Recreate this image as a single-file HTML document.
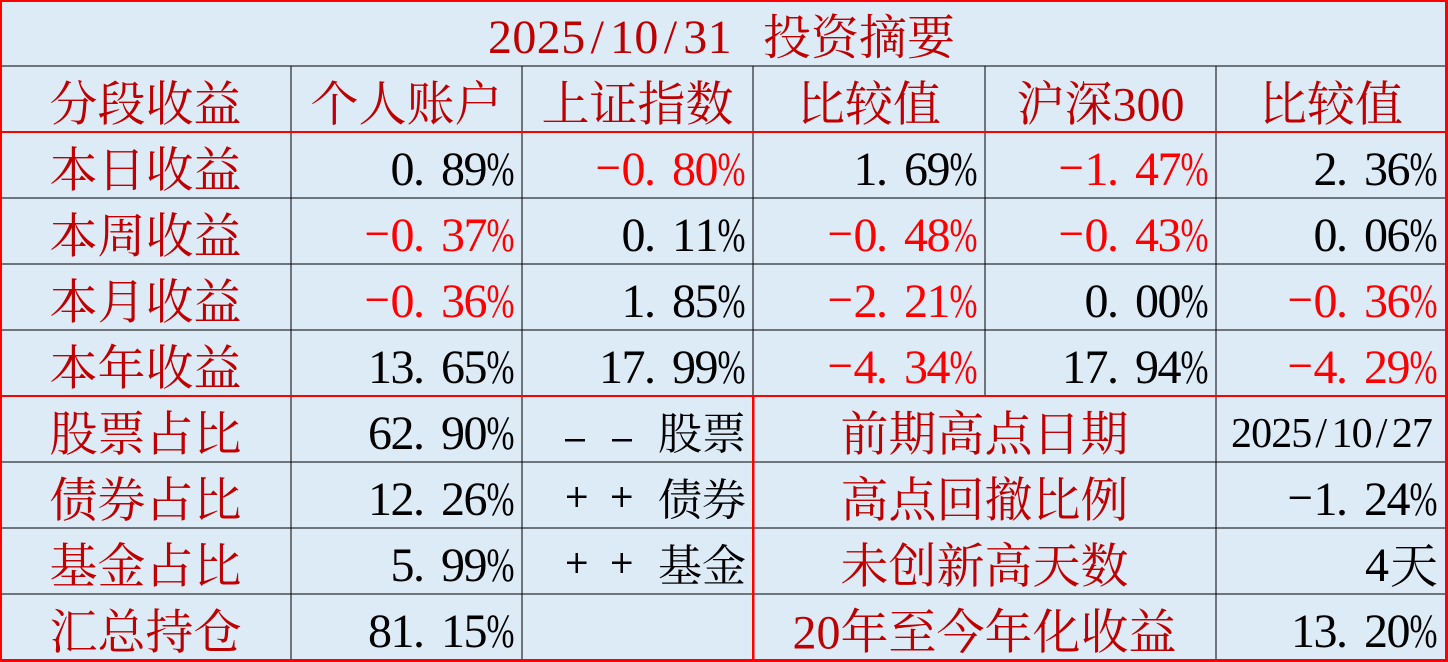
<!DOCTYPE html>
<html lang="zh-CN"><head><meta charset="utf-8"><style>
html,body{margin:0;padding:0;background:#DDEBF7;}
svg{display:block;font-family:'Liberation Serif','Noto Serif CJK SC','Noto Serif CJK JP',serif;}
svg text{font-family:'Liberation Serif','Noto Serif CJK SC','Noto Serif CJK JP',serif;}
.n{font-family:'Liberation Serif',serif;font-size:48px;}
.c{font-family:'Liberation Serif','Noto Serif CJK SC','Noto Serif CJK JP',serif;font-size:48px;}
.s{font-family:'Liberation Serif','Noto Serif CJK SC','Noto Serif CJK JP',serif;font-size:44px;}
.k{fill:#000;}
.r{fill:#FF0000;}
.d{fill:#C00000;}
</style></head><body>
<svg width="1448" height="662" viewBox="0 0 1448 662" xmlns="http://www.w3.org/2000/svg" font-family="'Liberation Serif','Noto Serif CJK SC',serif">
<rect x="0" y="0" width="1448" height="662" fill="#DDEBF7"/>
<g fill="#000">
<rect x="0" y="65.5" width="1448" height="1"/>
<rect x="0" y="197.5" width="1448" height="1"/>
<rect x="0" y="263.5" width="1448" height="1"/>
<rect x="0" y="329.5" width="1448" height="1"/>
<rect x="0" y="461.5" width="1448" height="1"/>
<rect x="0" y="527.5" width="1448" height="1"/>
<rect x="0" y="593.5" width="1448" height="1"/>
<rect x="290.5" y="66" width="1" height="594"/>
<rect x="521.5" y="66" width="1" height="594"/>
<rect x="752.5" y="66" width="1" height="330"/>
<rect x="984.5" y="66" width="1" height="330"/>
<rect x="1215.5" y="66" width="1" height="594"/>
</g>
<g fill="#FF0000">
<rect x="0" y="131" width="1448" height="2"/>
<rect x="0" y="395" width="1448" height="2"/>
<rect x="752" y="396" width="2.5" height="264"/>
<rect x="0" y="0" width="1448" height="2"/>
<rect x="0" y="0" width="2" height="662"/>
<rect x="1445" y="0" width="3" height="662"/>
<rect x="0" y="659" width="1448" height="3"/>
</g>

<text class="n d" font-family="'Liberation Serif',serif" x="488 512.4 536.8 561.2 590.6 610 634.4 663.8 683.2 707.6" y="53">2025/10/31</text>
<text class="c d" font-family="'Noto Serif CJK SC',serif" x="763" y="54">投资摘要</text>

<text class="c d" text-anchor="middle" x="145.5" y="120.5">分段收益</text>
<text class="c d" text-anchor="middle" x="406.5" y="120.5">个人账户</text>
<text class="c d" text-anchor="middle" x="637.5" y="120.5">上证指数</text>
<text class="c d" text-anchor="middle" x="869" y="120.5">比较值</text>
<text class="c d" text-anchor="middle" x="1100.5" y="120.5">沪深300</text>
<text class="c d" text-anchor="middle" x="1331" y="120.5">比较值</text>

<text class="c d" text-anchor="middle" x="145.5" y="186.5">本日收益</text>
<text class="c d" text-anchor="middle" x="145.5" y="252.5">本周收益</text>
<text class="c d" text-anchor="middle" x="145.5" y="318.5">本月收益</text>
<text class="c d" text-anchor="middle" x="145.5" y="384.5">本年收益</text>
<text class="c d" text-anchor="middle" x="145.5" y="450.5">股票占比</text>
<text class="c d" text-anchor="middle" x="145.5" y="516.5">债券占比</text>
<text class="c d" text-anchor="middle" x="145.5" y="582.5">基金占比</text>
<text class="c d" text-anchor="middle" x="145.5" y="648.5">汇总持仓</text>

<text class="n k" x="390.5 413 441 463.5" y="185">0.89</text>
<text class="n k" transform="translate(486.5,185) scale(0.7,1)">%</text>
<rect class="r" x="597.7" y="166.5" width="21" height="2.5"/>
<text class="n r" x="621.5 644 672 694.5" y="185">0.80</text>
<text class="n r" transform="translate(717.5,185) scale(0.7,1)">%</text>
<text class="n k" x="853.5 876 904 926.5" y="185">1.69</text>
<text class="n k" transform="translate(949.5,185) scale(0.7,1)">%</text>
<rect class="r" x="1060.7" y="166.5" width="21" height="2.5"/>
<text class="n r" x="1084.5 1107 1135 1157.5" y="185">1.47</text>
<text class="n r" transform="translate(1180.5,185) scale(0.7,1)">%</text>
<text class="n k" x="1313.5 1336 1364 1386.5" y="185">2.36</text>
<text class="n k" transform="translate(1409.5,185) scale(0.7,1)">%</text>

<rect class="r" x="366.7" y="232.5" width="21" height="2.5"/>
<text class="n r" x="390.5 413 441 463.5" y="251">0.37</text>
<text class="n r" transform="translate(486.5,251) scale(0.7,1)">%</text>
<text class="n k" x="621.5 644 672 694.5" y="251">0.11</text>
<text class="n k" transform="translate(717.5,251) scale(0.7,1)">%</text>
<rect class="r" x="829.7" y="232.5" width="21" height="2.5"/>
<text class="n r" x="853.5 876 904 926.5" y="251">0.48</text>
<text class="n r" transform="translate(949.5,251) scale(0.7,1)">%</text>
<rect class="r" x="1060.7" y="232.5" width="21" height="2.5"/>
<text class="n r" x="1084.5 1107 1135 1157.5" y="251">0.43</text>
<text class="n r" transform="translate(1180.5,251) scale(0.7,1)">%</text>
<text class="n k" x="1313.5 1336 1364 1386.5" y="251">0.06</text>
<text class="n k" transform="translate(1409.5,251) scale(0.7,1)">%</text>

<rect class="r" x="366.7" y="298.5" width="21" height="2.5"/>
<text class="n r" x="390.5 413 441 463.5" y="317">0.36</text>
<text class="n r" transform="translate(486.5,317) scale(0.7,1)">%</text>
<text class="n k" x="621.5 644 672 694.5" y="317">1.85</text>
<text class="n k" transform="translate(717.5,317) scale(0.7,1)">%</text>
<rect class="r" x="829.7" y="298.5" width="21" height="2.5"/>
<text class="n r" x="853.5 876 904 926.5" y="317">2.21</text>
<text class="n r" transform="translate(949.5,317) scale(0.7,1)">%</text>
<text class="n k" x="1084.5 1107 1135 1157.5" y="317">0.00</text>
<text class="n k" transform="translate(1180.5,317) scale(0.7,1)">%</text>
<rect class="r" x="1289.7" y="298.5" width="21" height="2.5"/>
<text class="n r" x="1313.5 1336 1364 1386.5" y="317">0.36</text>
<text class="n r" transform="translate(1409.5,317) scale(0.7,1)">%</text>

<text class="n k" x="368 390.5 413 441 463.5" y="383">13.65</text>
<text class="n k" transform="translate(486.5,383) scale(0.7,1)">%</text>
<text class="n k" x="599 621.5 644 672 694.5" y="383">17.99</text>
<text class="n k" transform="translate(717.5,383) scale(0.7,1)">%</text>
<rect class="r" x="829.7" y="364.5" width="21" height="2.5"/>
<text class="n r" x="853.5 876 904 926.5" y="383">4.34</text>
<text class="n r" transform="translate(949.5,383) scale(0.7,1)">%</text>
<text class="n k" x="1062 1084.5 1107 1135 1157.5" y="383">17.94</text>
<text class="n k" transform="translate(1180.5,383) scale(0.7,1)">%</text>
<rect class="r" x="1289.7" y="364.5" width="21" height="2.5"/>
<text class="n r" x="1313.5 1336 1364 1386.5" y="383">4.29</text>
<text class="n r" transform="translate(1409.5,383) scale(0.7,1)">%</text>

<text class="n k" x="368 390.5 413 441 463.5" y="449">62.90</text>
<text class="n k" transform="translate(486.5,449) scale(0.7,1)">%</text>
<text class="n k" x="368 390.5 413 441 463.5" y="515">12.26</text>
<text class="n k" transform="translate(486.5,515) scale(0.7,1)">%</text>
<text class="n k" x="390.5 413 441 463.5" y="581">5.99</text>
<text class="n k" transform="translate(486.5,581) scale(0.7,1)">%</text>
<text class="n k" x="368 390.5 413 441 463.5" y="647">81.15</text>
<text class="n k" transform="translate(486.5,647) scale(0.7,1)">%</text>

<rect fill="#000" x="565" y="439" width="20" height="2.5"/>
<rect fill="#000" x="612" y="439" width="20" height="2.5"/>
<text class="s k" text-anchor="end" x="746" y="449">股票</text>
<rect fill="#000" x="567" y="495.5" width="19.5" height="2.5"/>
<rect fill="#000" x="575.5" y="487" width="2.5" height="20"/>
<rect fill="#000" x="612" y="495.5" width="19.5" height="2.5"/>
<rect fill="#000" x="620.5" y="487" width="2.5" height="20"/>
<text class="s k" text-anchor="end" x="746" y="515">债券</text>
<rect fill="#000" x="567" y="561.5" width="19.5" height="2.5"/>
<rect fill="#000" x="575.5" y="553" width="2.5" height="20"/>
<rect fill="#000" x="612" y="561.5" width="19.5" height="2.5"/>
<rect fill="#000" x="620.5" y="553" width="2.5" height="20"/>
<text class="s k" text-anchor="end" x="746" y="581">基金</text>

<text class="c d" text-anchor="middle" x="984.5" y="450.5">前期高点日期</text>
<text class="c d" text-anchor="middle" x="984.5" y="516.5">高点回撤比例</text>
<text class="c d" text-anchor="middle" x="984.5" y="582.5">未创新高天数</text>
<text class="c d" text-anchor="middle" x="984.5" y="648.5">20年至今年化收益</text>

<text class="n k" style="font-size:42px" x="1231 1251.1 1271.2 1291.3 1315.4 1331.5 1351.6 1375.7 1391.8 1411.9" y="447">2025/10/27</text>
<rect class="k" x="1289.7" y="496.5" width="21" height="2.5"/>
<text class="n k" x="1313.5 1336 1364 1386.5" y="515">1.24</text>
<text class="n k" transform="translate(1409.5,515) scale(0.7,1)">%</text>
<text class="n k" x="1365" y="581">4</text>
<text class="c k" x="1390" y="582.5">天</text>
<text class="n k" x="1291 1313.5 1336 1364 1386.5" y="647">13.20</text>
<text class="n k" transform="translate(1409.5,647) scale(0.7,1)">%</text>
</svg>
</body></html>
